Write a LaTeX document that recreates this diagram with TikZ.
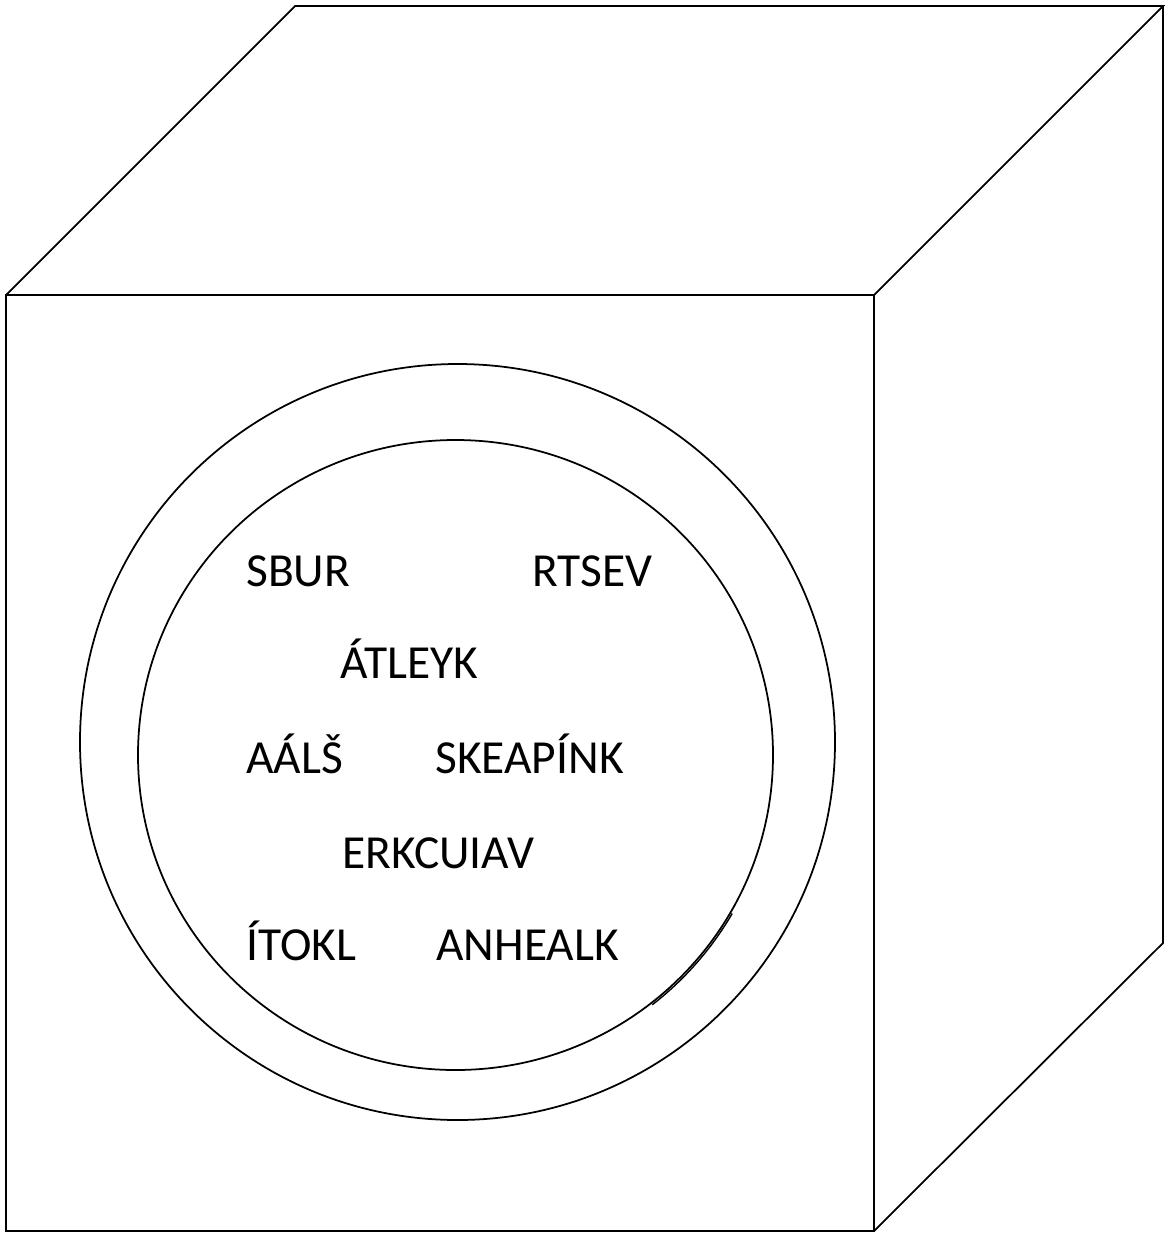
\documentclass[tikz,border=0pt]{standalone}
\usepackage{fontspec}
\setmainfont{Carlito}
\begin{document}
\begin{tikzpicture}[x=0.02cm,y=-0.02cm,
  edge/.style={draw=black,line width=1pt,line join=miter},
  lbl/.style={anchor=base west,inner sep=0pt,font=\fontsize{27}{32}\selectfont}]
\useasboundingbox[fill=white] (0,0) rectangle (1171,1235);
% cube
\coordinate (a) at (6,295);
\coordinate (b) at (874,295);
\coordinate (c) at (874,1231);
\coordinate (d) at (6,1231);
\coordinate (e) at (295,6);
\coordinate (f) at (1163,6);
\coordinate (g) at (1163,943);
\draw[edge] (a) -- (b) -- (c) -- (d) -- cycle;
\draw[edge] (a) -- (e) -- (f) -- (b);
\draw[edge] (f) -- (g) -- (c);
% circles
\draw[edge] (457.5,742) ellipse [x radius=377.5, y radius=378];
\draw[edge] (455.5,755) ellipse [x radius=317.5, y radius=315];
\draw[edge,line width=0.8pt] (455.5,755) ++(30:{319.5 and 317}) arc[start angle=30, end angle=52, x radius=319.5, y radius=317];
% labels
\node[lbl] (sbur) at (246,586) {SBUR};
\node[lbl] (rtsev) at (532,586) {RTSEV};
\node[lbl] (atleyk) at (340,678) {ÁTLEYK};
\node[lbl] (aals) at (246,773) {AÁLŠ};
\node[lbl] (skeapink) at (435,773) {SKEAPÍNK};
\node[lbl] (erkcuiav) at (342,868) {ERKCUIAV};
\node[lbl] (itokl) at (246,960) {ÍTOKL};
\node[lbl] (anhealk) at (436,960) {ANHEALK};
\end{tikzpicture}
\end{document}
